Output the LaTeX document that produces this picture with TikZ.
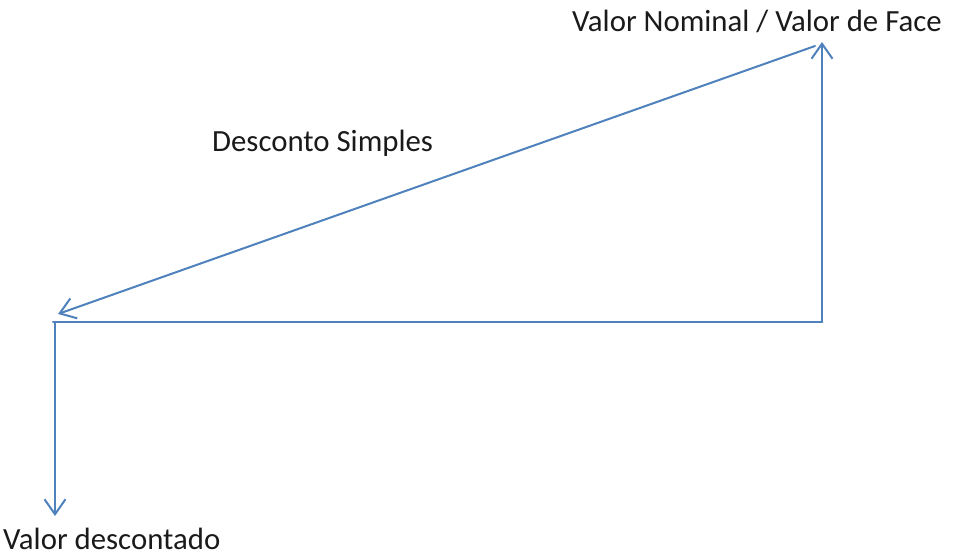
\documentclass[tikz,border=0pt]{standalone}
\usepackage{fontspec}
\setmainfont{Carlito}
\usetikzlibrary{arrows.meta}
\definecolor{lineblue}{HTML}{4F81BD}
\definecolor{txt}{HTML}{1A1A1A}
\tikzset{
  conn/.style={draw=lineblue, line width=2pt, line cap=round},
  arr/.style={conn, -{Straight Barb[length=15pt,width=21pt,line width=2pt]}},
  lbl/.style={anchor=base west, inner sep=0pt, font=\fontsize{30.8}{36}\selectfont, text=txt}
}
\begin{document}
\begin{tikzpicture}[x=1pt,y=-1pt]
\useasboundingbox (0,0) rectangle (957,556);
\coordinate (L) at (53,322);
\coordinate (R) at (822,322);
\coordinate (T) at (822,42);
\coordinate (S) at (815,46);
\coordinate (E) at (58,314);
\coordinate (Lv) at (55,322);
\coordinate (D) at (55,516);
\draw[conn] (L) -- (R);
\draw[arr] (R) -- (T);
\draw[arr] (S) -- (E);
\draw[arr] (Lv) -- (D);
\node[lbl] (nom) at (572,32) {Valor Nominal / Valor de Face};
\node[lbl] (ds) at (212,152) {Desconto Simples};
\node[lbl] (vd) at (3,549) {Valor descontado};
\end{tikzpicture}
\end{document}
